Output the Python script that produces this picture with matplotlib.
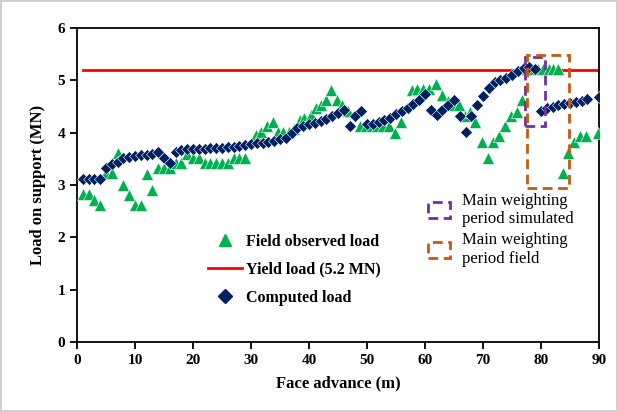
import matplotlib.pyplot as plt
from matplotlib.lines import Line2D
from matplotlib.patches import Patch, Rectangle

# computed support load (MN) against face advance (m)
computed_x = list(range(1, 89)) + [90]
computed_load = [
    3.12, 3.12, 3.12, 3.12, 3.32, 3.40, 3.44, 3.51, 3.54, 3.56,
    3.57, 3.58, 3.60, 3.64, 3.51, 3.42, 3.64, 3.66, 3.68, 3.68,
    3.69, 3.69, 3.70, 3.70, 3.71, 3.72, 3.73, 3.75, 3.77, 3.79,
    3.80, 3.81, 3.83, 3.85, 3.87, 3.90, 3.99, 4.09, 4.13, 4.16,
    4.19, 4.23, 4.27, 4.32, 4.37, 4.44, 4.12, 4.31, 4.42, 4.16,
    4.17, 4.20, 4.24, 4.28, 4.35, 4.42, 4.48, 4.55, 4.63, 4.73,
    4.44, 4.33, 4.44, 4.53, 4.63, 4.31, 4.02, 4.31, 4.52, 4.71,
    4.86, 4.96, 5.00, 5.04, 5.10, 5.17, 5.23, 5.26, 5.22, 4.42,
    4.47, 4.50, 4.52, 4.54, 4.56, 4.58, 4.61, 4.64, 4.68,
]

# field measurements
field_x = [
    1, 2, 3, 4, 5, 6, 7, 8, 9, 10, 11, 12, 13, 14, 15, 16, 17, 18, 19, 20,
    21, 22, 23, 24, 25, 26, 27, 28, 29, 30.8, 31.7, 32.7, 33.8, 34.7, 35.6,
    36.5, 37.4, 38.4, 39.2, 40.3, 41.2, 42.1, 42.9, 43.8, 44.8, 45.7, 46.8,
    48.8, 49.8, 50.8, 51.8, 52.8, 53.8, 54.8, 55.8, 57.7, 58.6, 59.7, 60.7,
    61.9, 62.9, 63.9, 64.9, 65.9, 66.9, 67.8, 68.7, 69.8, 70.8, 71.8, 72.8,
    73.8, 74.8, 75.8, 76.8, 77.6, 78.5, 79.4, 80.4, 81.3, 82.1, 83.0, 83.8,
    84.7, 85.7, 86.7, 87.7, 89.8,
]
field_load = [
    2.82, 2.82, 2.71, 2.62, 3.22, 3.22, 3.62, 3.00, 2.81, 2.62, 2.62, 3.21,
    2.91, 3.32, 3.32, 3.32, 3.42, 3.42, 3.60, 3.51, 3.51, 3.42, 3.42, 3.42,
    3.42, 3.42, 3.51, 3.51, 3.51, 3.96, 4.02, 4.12, 4.21, 4.02, 4.02, 4.02,
    4.07, 4.24, 4.28, 4.34, 4.47, 4.52, 4.62, 4.82, 4.62, 4.53, 4.42,
    4.12, 4.12, 4.12, 4.12, 4.12, 4.12, 3.99, 4.21, 4.82, 4.84, 4.84, 4.84,
    4.93, 4.72, 4.60, 4.53, 4.53, 4.31, 4.40, 4.21, 3.82, 3.51, 3.82, 3.93,
    4.12, 4.31, 4.40, 4.63, 5.22, 5.22, 5.22, 5.22, 5.22, 5.22, 5.22, 3.22,
    3.61, 3.82, 3.93, 3.93, 4.00,
]

yield_load = 5.2
yield_x = [1, 90]

# main weighting periods: (x start, x end, load low, load high)
period_simulated = (77.2, 80.6, 4.13, 5.45)
period_field = (77.5, 84.8, 2.95, 5.48)

GREEN = "#00b050"
NAVY = "#002060"
RED = "#ff0000"
PURPLE = "#7030a0"
ORANGE = "#c55a11"
DASH = (0, (3.5, 2))

plt.rcParams["font.family"] = ["Liberation Serif", "DejaVu Serif"]

fig = plt.figure(figsize=(6.18, 4.12), dpi=100)
fig.patch.set_edgecolor("#d0d0d0")
fig.patch.set_linewidth(1.5)
ax = fig.add_axes([0.1246, 0.170, 0.8447, 0.762])

ax.plot(yield_x, [yield_load, yield_load], color=RED, lw=2, zorder=2)
ax.plot(field_x, field_load, ls="none", marker="^", ms=8, color=GREEN,
        markeredgecolor="white", markeredgewidth=0.4, zorder=3)
ax.plot(computed_x, computed_load, ls="none", marker="D", ms=6.5, color=NAVY,
        markeredgecolor="white", markeredgewidth=0.4, zorder=4)

for (x0, x1, y0, y1), col in [(period_simulated, PURPLE), (period_field, ORANGE)]:
    ax.add_patch(Rectangle((x0, y0), x1 - x0, y1 - y0, fill=False,
                           edgecolor=col, lw=2, ls=DASH, zorder=5))

ax.set_xlim(0, 90)
ax.set_ylim(0, 6)
ax.set_xticks(range(0, 91, 10))
ax.set_yticks(range(0, 7))
ax.tick_params(direction="out", length=5, width=1.3, labelsize=11)
for lab in ax.get_xticklabels() + ax.get_yticklabels():
    lab.set_fontweight("bold")
for sp in ax.spines.values():
    sp.set_linewidth(1.3)

ax.set_xlabel("Face advance (m)", fontsize=12, fontweight="bold", labelpad=6)
ax.set_ylabel("Load on support (MN)", fontsize=12, fontweight="bold", labelpad=8)

series_handles = [
    Line2D([], [], ls="none", marker="^", ms=8.5, color=GREEN),
    Line2D([], [], color=RED, lw=2),
    Line2D([], [], ls="none", marker="D", ms=7, color=NAVY),
]
leg1 = ax.legend(series_handles,
                 ["Field observed load", "Yield load (5.2 MN)", "Computed load"],
                 loc="upper left", bbox_to_anchor=(0.251, 0.345), frameon=False,
                 prop={"weight": "bold", "size": 11.5}, handlelength=2.1,
                 handletextpad=0.3, labelspacing=0.75, borderpad=0,
                 borderaxespad=0)
ax.add_artist(leg1)

period_handles = [
    Patch(fill=False, edgecolor=PURPLE, lw=2, ls=DASH),
    Patch(fill=False, edgecolor=ORANGE, lw=2, ls=DASH),
]
ax.legend(period_handles,
          ["Main weighting\nperiod simulated", "Main weighting\nperiod field"],
          loc="upper left", bbox_to_anchor=(0.672, 0.475), frameon=False,
          prop={"size": 12}, handlelength=1.35, handleheight=1.1,
          handletextpad=0.7, labelspacing=0.3, borderpad=0, borderaxespad=0)

fig.savefig("out.png", dpi=100)
